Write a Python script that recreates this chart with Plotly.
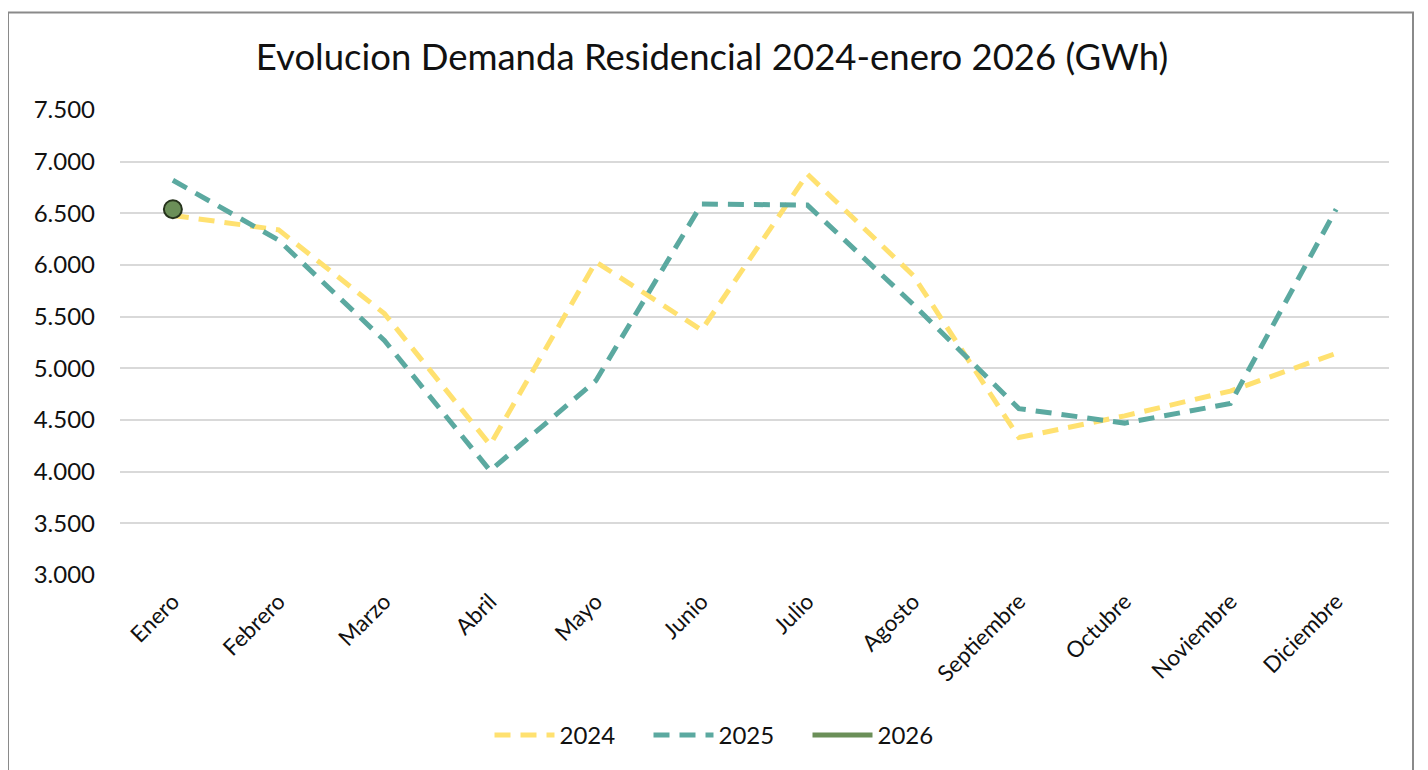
import plotly.graph_objects as go

meses = ["Enero", "Febrero", "Marzo", "Abril", "Mayo", "Junio", "Julio",
         "Agosto", "Septiembre", "Octubre", "Noviembre", "Diciembre"]
d2024 = [6480, 6340, 5530, 4260, 6030, 5370, 6880, 5900, 4330, 4540, 4780, 5145]
d2025 = [6820, 6240, 5270, 4010, 4880, 6590, 6580, 5620, 4610, 4470, 4660, 6540]
meses2026 = ["Enero"]
d2026 = [6540]
y_ticks = [3000, 3500, 4000, 4500, 5000, 5500, 6000, 6500, 7000, 7500]

# page body has an 8px margin; work in reference pixel coords minus 8
OFF = 8
W, H = 1428 - OFF, 770 - OFF
ML = 120 - OFF
MT = 110 - OFF
MR = W - (1389 - OFF)
MB = H - (577 - OFF)

fig = go.Figure()
fig.add_trace(go.Scatter(x=meses, y=d2024, name="2024", mode="lines",
                         line=dict(color="#FFE170", width=5, dash="16px,10px")))
fig.add_trace(go.Scatter(x=meses, y=d2025, name="2025", mode="lines",
                         line=dict(color="#5BA9A0", width=5, dash="16px,10px")))
fig.add_trace(go.Scatter(x=meses2026, y=d2026, name="2026", mode="lines",
                         legendgroup="g26",
                         line=dict(color="#6B8F58", width=5)))
fig.add_trace(go.Scatter(x=meses2026, y=d2026, name="2026", mode="markers",
                         legendgroup="g26", showlegend=False,
                         marker=dict(color="#6B8F58", size=18, symbol="circle",
                                     line=dict(color="#26331c", width=2))))

pw = W - ML - MR
ph = H - MT - MB
fig.add_shape(type="rect", xref="paper", yref="paper",
              x0=(8 - OFF - ML) / pw, x1=(1413 - OFF - ML) / pw,
              y0=-(H + 20 - MT - ph) / ph, y1=(H - (12 - OFF) - MB) / ph,
              line=dict(color="#8a8a8a", width=2), fillcolor="rgba(0,0,0,0)",
              layer="below")

fig.update_layout(
    width=W, height=H,
    margin=dict(l=ML, r=MR, t=MT, b=MB),
    paper_bgcolor="white", plot_bgcolor="white",
    separators=",.",
    font=dict(family="Lato", color="#111111"),
    title=dict(text="Evolucion Demanda Residencial 2024-enero 2026 (GWh)",
               x=(712 - OFF) / W, xref="container", xanchor="center",
               y=1 - (57 - OFF) / H, yref="container", yanchor="middle",
               font=dict(family="Lato", size=36.5, color="#111111")),
    xaxis=dict(type="category", range=[-0.5, 11.5], tickangle=-45,
               showgrid=False, showline=False, zeroline=False,
               ticks="", ticklabelstandoff=8,
               tickfont=dict(size=22.5, color="#111111")),
    yaxis=dict(range=[3000, 7500], tickvals=y_ticks, tickformat=",.0f",
               showgrid=True, gridcolor="#d9d9d9", gridwidth=2,
               zeroline=False, showline=False, ticks="",
               ticklabelstandoff=24,
               tickfont=dict(size=24, color="#111111")),
    legend=dict(orientation="h", x=(728 - OFF - ML) / pw, xanchor="center",
                y=-(738 - 577) / ph, yanchor="middle",
                font=dict(size=24, color="#111111"),
                entrywidth=84, entrywidthmode="pixels",
                itemwidth=60, bgcolor="rgba(0,0,0,0)"),
    showlegend=True,
)

fig.write_html("out.html")
